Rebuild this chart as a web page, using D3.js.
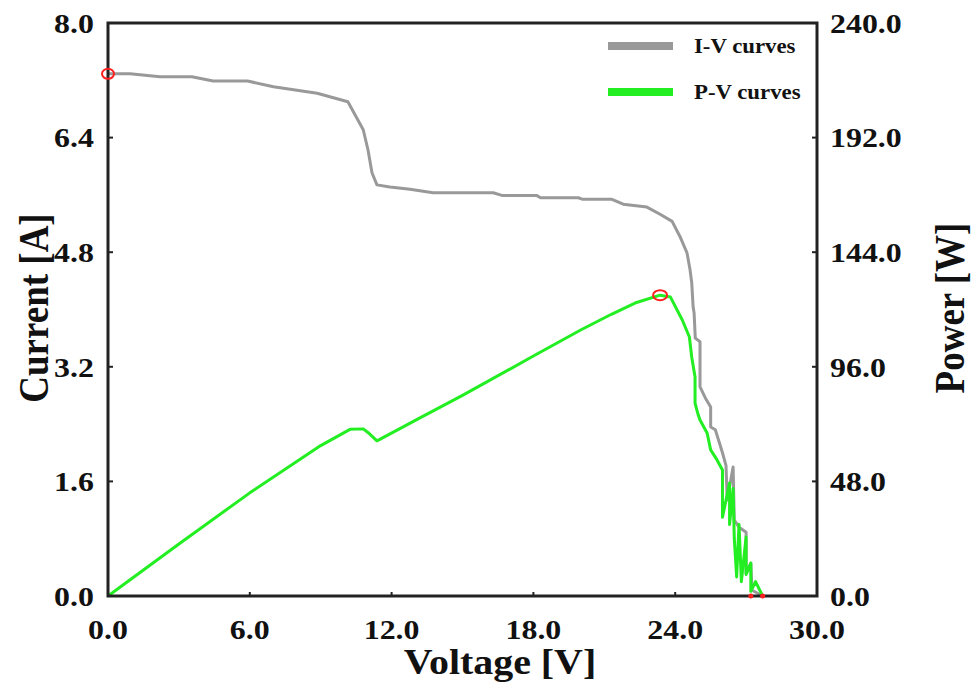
<!DOCTYPE html>
<html><head><meta charset="utf-8">
<script src="https://cdn.jsdelivr.net/npm/d3@7"></script>
<style>body{margin:0;background:#fff}svg{display:block}</style>
</head><body>
<svg id="chart" width="973" height="691"></svg>
<script>
// ---- data ----
const ivVoltage = [0, 0.93, 2.2, 3.55, 4.45, 5.9, 7.0, 8.85, 10.15, 10.8, 11.0, 11.17, 11.38, 11.93, 12.78, 13.75, 16.3, 16.7, 18.15, 18.3, 19.9, 20.06, 21.3, 21.8, 22.8, 23.36, 23.87, 24.2, 24.5, 24.63, 24.7, 24.76, 24.8, 24.85, 25.05, 25.05, 25.3, 25.5, 25.5, 25.7, 26.0, 26.15, 26.2, 26.45, 26.5, 26.7, 27.0, 27.0, 27.2, 27.25, 27.7];
const ivCurrent = [7.29, 7.29, 7.25, 7.25, 7.19, 7.19, 7.11, 7.02, 6.90, 6.51, 6.23, 5.91, 5.74, 5.71, 5.68, 5.63, 5.63, 5.59, 5.59, 5.56, 5.56, 5.54, 5.54, 5.47, 5.43, 5.33, 5.23, 5.02, 4.79, 4.55, 4.37, 4.03, 3.95, 3.60, 3.55, 2.92, 2.75, 2.64, 2.36, 2.32, 2.00, 1.82, 1.34, 1.80, 1.06, 0.96, 0.89, 0.32, 0.46, 0.08, 0.0];
const pvVoltage = [0, 3.0, 6.0, 9.0, 10.24, 10.8, 11.0, 11.38, 13.2, 15.0, 18.0, 20.0, 21.3, 22.3, 23.36, 23.8, 24.3, 24.6, 24.7, 24.84, 24.84, 24.97, 25.05, 25.35, 25.5, 25.77, 26.0, 26.0, 26.3, 26.3, 26.45, 26.5, 26.6, 26.7, 26.8, 27.0, 27.0, 27.2, 27.2, 27.4, 27.7];
const pvPower   = [0, 21.8, 43.2, 63.0, 69.8, 70.0, 68.5, 65.0, 74.6, 84.0, 100.5, 111.4, 118.0, 122.7, 126.0, 125.2, 115.6, 108.5, 100.0, 91.7, 80.8, 76.0, 73.7, 68.3, 61.2, 57.0, 52.8, 33.0, 47.3, 30.0, 45.0, 24.0, 8.0, 30.0, 6.0, 24.7, 9.0, 13.8, 2.0, 6.0, 0.0];
const xTicks = [0, 6, 12, 18, 24, 30];
const yLeftTicks = [0, 1.6, 3.2, 4.8, 6.4, 8.0];
const yRightTicks = [0, 48, 96, 144, 192, 240];
const seriesNames = ["I-V curves", "P-V curves"];
const seriesColors = ["#999999", "#22ee22"];
const iscPoint = {v: 0, i: 7.29};
const mppPoint = {v: 23.36, p: 126.0};
const endPoints = [27.2, 27.7];

// ---- layout ----
const svg = d3.select("#chart");
const L = 108, R = 817, T = 23, B = 596;
const SX = 1.14; // horizontal stretch of text in reference
const x = d3.scaleLinear().domain([0, 30]).range([L, R]);
const yI = d3.scaleLinear().domain([0, 8]).range([B, T]);
const yP = d3.scaleLinear().domain([0, 240]).range([B, T]);
const font = "'Liberation Serif','Times New Roman',serif";

function txt(g, s, px, py, size, anchor, rot) {
  return g.append("text")
    .attr("transform", `translate(${px},${py}) scale(${SX},1)` + (rot ? ` rotate(${rot})` : ""))
    .attr("text-anchor", anchor).attr("dominant-baseline", "central")
    .style("font-family", font).style("font-weight", "bold").style("font-size", size + "px")
    .attr("fill", "#111").text(s);
}

// lines
const lineIV = d3.line().x((d, k) => x(ivVoltage[k])).y((d, k) => yI(ivCurrent[k]));
const linePV = d3.line().x((d, k) => x(pvVoltage[k])).y((d, k) => yP(pvPower[k]));
svg.append("path").datum(ivCurrent).attr("d", lineIV).attr("fill", "none")
  .attr("stroke", seriesColors[0]).attr("stroke-width", 3).attr("stroke-linejoin", "round");
svg.append("path").datum(pvPower).attr("d", linePV).attr("fill", "none")
  .attr("stroke", seriesColors[1]).attr("stroke-width", 3).attr("stroke-linejoin", "round");

// frame and axes
const axG = svg.append("g");
axG.append("rect").attr("x", L).attr("y", T).attr("width", R - L).attr("height", B - T)
  .attr("fill", "none").attr("stroke", "#222").attr("stroke-width", 3);
xTicks.forEach(t => {
  axG.append("line").attr("x1", x(t)).attr("x2", x(t)).attr("y1", B).attr("y2", B - 4).attr("stroke", "#222").attr("stroke-width", 2);
  txt(axG, t.toFixed(1), x(t), 629, 28, "middle");
});
yLeftTicks.forEach(t => {
  axG.append("line").attr("x1", L).attr("x2", L + 5).attr("y1", yI(t)).attr("y2", yI(t)).attr("stroke", "#222").attr("stroke-width", 2);
  txt(axG, t.toFixed(1), L - 14, yI(t), 28, "end");
});
yRightTicks.forEach(t => {
  axG.append("line").attr("x1", R).attr("x2", R - 5).attr("y1", yP(t)).attr("y2", yP(t)).attr("stroke", "#222").attr("stroke-width", 2);
  txt(axG, t.toFixed(1), R + 13, yP(t), 28, "start");
});

// titles
txt(svg, "Voltage [V]", 500, 662, 35, "middle");
txt(svg, "Current [A]", 34, 308, 37, "middle", -90);
txt(svg, "Power [W]", 950, 308, 37, "middle", -90);

// markers
svg.append("ellipse").attr("cx", x(iscPoint.v)).attr("cy", yI(iscPoint.i)).attr("rx", 6).attr("ry", 5)
  .attr("fill", "none").attr("stroke", "#ff2020").attr("stroke-width", 2);
svg.append("ellipse").attr("cx", x(mppPoint.v)).attr("cy", yP(mppPoint.p)).attr("rx", 7).attr("ry", 5)
  .attr("fill", "none").attr("stroke", "#ff2020").attr("stroke-width", 2);
endPoints.forEach(v => svg.append("circle").attr("cx", x(v)).attr("cy", B).attr("r", 2.5).attr("fill", "#ff2020"));

// legend
const lg = svg.append("g");
seriesNames.forEach((n, k) => {
  const yy = 46 + k * 46;
  lg.append("line").attr("x1", 608).attr("x2", 673).attr("y1", yy).attr("y2", yy)
    .attr("stroke", seriesColors[k]).attr("stroke-width", 8);
  txt(lg, n, 694, yy, 20, "start");
});
</script>
</body></html>
